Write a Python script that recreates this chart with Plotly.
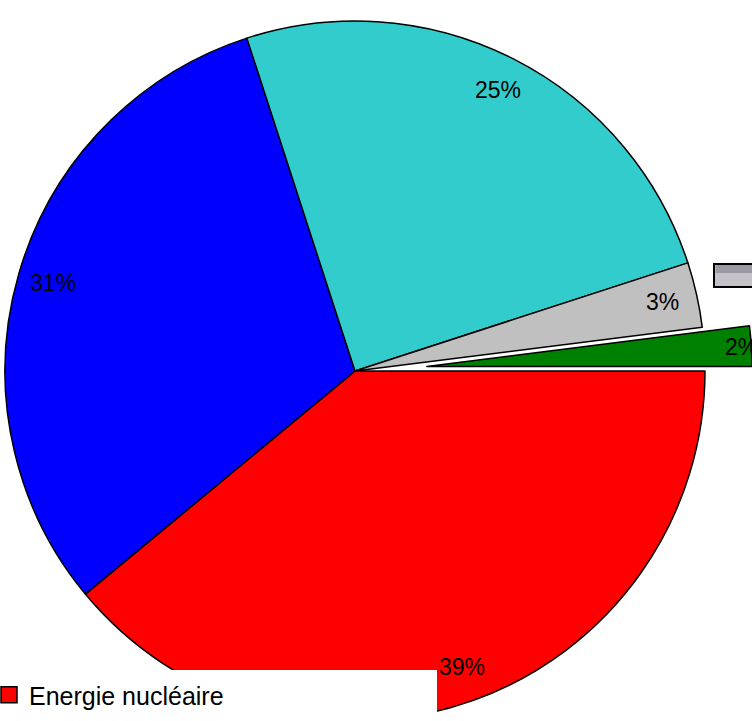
import numpy as np
import plotly.graph_objects as go

# Energy mix shares (percent), in clockwise order starting at 3 o'clock
labels = ["Energie nucléaire", "Pétrole", "Gaz naturel", "Charbon", "Energies renouvelables"]
shares = [39, 31, 25, 3, 2]
colors = ["#FF0000", "#0000FF", "#33CCCC", "#C0C0C0", "#008000"]
exploded = [False, False, False, False, True]
legend_items = [0]                 # slices listed in the key at the bottom

# Page geometry (pixels)
W, H = 752, 721
CX, CY, R = 355, 371, 350          # pie centre and radius
PULL_PX = 72                       # offset of the exploded slice
LABEL_R = 315                      # radius where percentages are written
FONT = "Liberation Sans, Arial, sans-serif"

vals = np.array(shares, dtype=float)
cum = np.concatenate([[0], np.cumsum(vals)[:-1]])
mid_deg = (cum + vals / 2) / vals.sum() * 360.0   # clockwise from 3 o'clock
mid_rad = np.deg2rad(mid_deg)


def domain_for(cx, cy, r):
    return dict(x=[(cx - r) / W, (cx + r) / W],
                y=[max(0.0, 1 - (cy + r) / H), min(1.0, 1 - (cy - r) / H)])


transparent = "rgba(0,0,0,0)"

# main body of the pie (exploded slice left empty)
main_colors = [transparent if e else c for c, e in zip(colors, exploded)]
main_lines = [0 if e else 1.5 for e in exploded]

fig = go.Figure()
fig.add_trace(go.Pie(
    labels=labels, values=shares, sort=False, direction="clockwise", rotation=90,
    marker=dict(colors=main_colors, line=dict(color="black", width=main_lines)),
    textinfo="none", hoverinfo="skip", domain=domain_for(CX, CY, R),
    showlegend=False,
))

# exploded slice, drawn from a centre shifted along its bisector
ex_idx = [i for i, e in enumerate(exploded) if e]
ex_mid = mid_rad[ex_idx[0]]
ECX = CX + PULL_PX * np.cos(ex_mid)
ECY = CY + PULL_PX * np.sin(ex_mid)
ER = min(R, W - ECX)
ex_colors = [c if e else transparent for c, e in zip(colors, exploded)]
ex_lines = [1.5 if e else 0 for e in exploded]
fig.add_trace(go.Pie(
    labels=labels, values=shares, sort=False, direction="clockwise", rotation=90,
    marker=dict(colors=ex_colors, line=dict(color="black", width=ex_lines)),
    textinfo="none", hoverinfo="skip", domain=domain_for(ECX, ECY, ER),
    showlegend=False,
))

# key entries (square swatches)
for i in legend_items:
    fig.add_trace(go.Scatter(
        x=[None], y=[None], mode="markers", name=labels[i], showlegend=True,
        marker=dict(symbol="square", size=16, color=colors[i],
                    line=dict(color="black", width=1.5)),
    ))

# percentage labels
annotations = []
for i, v in enumerate(shares):
    cx, cy = (ECX, ECY) if exploded[i] else (CX, CY)
    px = cx + LABEL_R * np.cos(mid_rad[i])
    py = cy + LABEL_R * np.sin(mid_rad[i])
    annotations.append(dict(
        x=px / W, y=1 - py / H, xref="paper", yref="paper",
        text=f"{v}%", showarrow=False, xanchor="center", yanchor="middle",
        font=dict(family=FONT, size=23, color="black"),
    ))

shapes = [
    # white panel behind the key
    dict(type="rect", xref="paper", yref="paper", layer="above",
         x0=0, x1=437 / W, y0=-0.05, y1=1 - 670 / H,
         fillcolor="white", line=dict(width=0)),
    # grey key box at the right edge
    dict(type="rect", xref="paper", yref="paper", layer="above",
         x0=714 / W, x1=1.02, y0=1 - 287 / H, y1=1 - 264 / H,
         fillcolor="#C4C2C8", line=dict(color="black", width=2)),
    dict(type="rect", xref="paper", yref="paper", layer="above",
         x0=715.5 / W, x1=1.02, y0=1 - 273 / H, y1=1 - 265 / H,
         fillcolor="#9C99A2", line=dict(width=0)),
]

fig.update_layout(
    width=W, height=H,
    margin=dict(l=0, r=0, t=0, b=0, autoexpand=False),
    paper_bgcolor="white", plot_bgcolor="white",
    xaxis=dict(visible=False), yaxis=dict(visible=False),
    annotations=annotations, shapes=shapes,
    legend=dict(x=-11 / W, y=1 - 672 / H, xanchor="left", yanchor="top",
                bgcolor="rgba(0,0,0,0)", borderwidth=0,
                font=dict(family=FONT, size=25, color="black")),
)

fig.write_html("out.html")
